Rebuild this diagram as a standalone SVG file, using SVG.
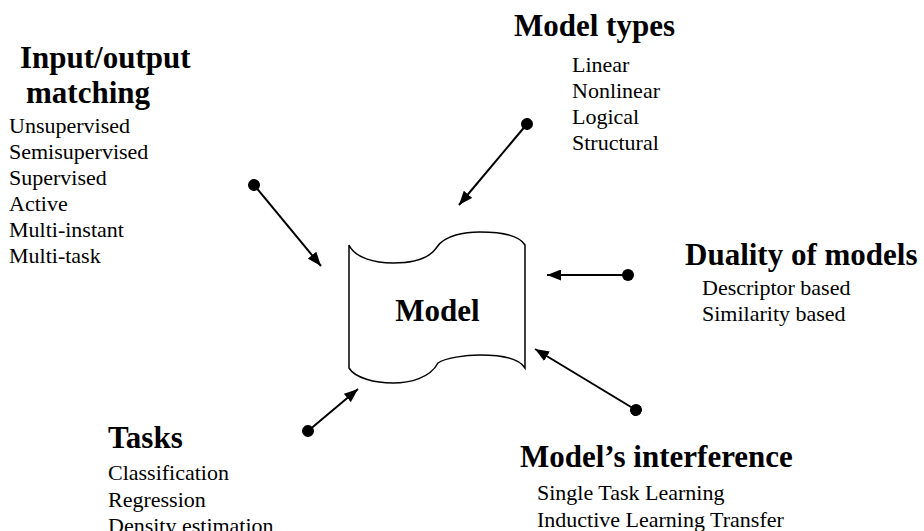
<svg xmlns="http://www.w3.org/2000/svg" width="924" height="531" viewBox="0 0 924 531">
<style>
.h{font-family:"Liberation Serif","Times New Roman",serif;font-weight:bold;font-size:31px;fill:#000}
.t{font-family:"Liberation Serif","Times New Roman",serif;font-size:22px;fill:#000}
.c{stroke:#000;stroke-width:2;fill:none;marker-start:url(#dot);marker-end:url(#head)}
</style>
<defs>
<marker id="head" viewBox="0 0 14 11" markerWidth="14" markerHeight="11" refX="14" refY="5.5" orient="auto" markerUnits="userSpaceOnUse"><path d="M0,0 L14,5.5 L0,11 Z" fill="#000"/></marker>
<marker id="dot" viewBox="0 0 12 12" markerWidth="12" markerHeight="12" refX="6" refY="6" orient="auto" markerUnits="userSpaceOnUse"><circle cx="6" cy="6" r="6" fill="#000"/></marker>
</defs>
<rect width="924" height="531" fill="#fff"/>
<g id="model">
<path d="M349,245 C355,258 375,263 393,263 C415,263 430,258 437,247 C445,235 465,232 480,232 C505,232 520,237 525,245 L525,368 C520,360 505,355 480,355 C465,355 445,358 438,363 C430,378 410,383 393,383 C375,383 355,378 349,368 Z" fill="#fff" stroke="#000" stroke-width="1.5"/>
<text class="h" x="437.5" y="321" text-anchor="middle">Model</text>
</g>
<g id="io">
<text class="h" x="20" y="68">Input/output</text>
<text class="h" x="26" y="103">matching</text>
<text class="t" x="9" y="133">Unsupervised</text>
<text class="t" x="9" y="159">Semisupervised</text>
<text class="t" x="9" y="185">Supervised</text>
<text class="t" x="9" y="211">Active</text>
<text class="t" x="9" y="237">Multi-instant</text>
<text class="t" x="9" y="263">Multi-task</text>
</g>
<g id="types">
<text class="h" x="514" y="36">Model types</text>
<text class="t" x="572" y="72">Linear</text>
<text class="t" x="572" y="98">Nonlinear</text>
<text class="t" x="572" y="124">Logical</text>
<text class="t" x="572" y="150">Structural</text>
</g>
<g id="duality">
<text class="h" x="685" y="265">Duality of models</text>
<text class="t" x="702" y="295">Descriptor based</text>
<text class="t" x="702" y="321">Similarity based</text>
</g>
<g id="tasks">
<text class="h" x="108" y="448">Tasks</text>
<text class="t" x="108" y="480">Classification</text>
<text class="t" x="108" y="507">Regression</text>
<text class="t" x="108" y="533">Density estimation</text>
</g>
<g id="interference">
<text class="h" x="520" y="467">Model’s interference</text>
<text class="t" x="537" y="500">Single Task Learning</text>
<text class="t" x="537" y="527">Inductive Learning Transfer</text>
</g>
<g id="connectors">
<line class="c" x1="254" y1="185" x2="321" y2="266"/>
<line class="c" x1="527" y1="124" x2="459" y2="205"/>
<line class="c" x1="628" y1="275" x2="547" y2="275"/>
<line class="c" x1="308" y1="431" x2="358" y2="389"/>
<line class="c" x1="636" y1="410" x2="535" y2="349"/>
</g>
</svg>
